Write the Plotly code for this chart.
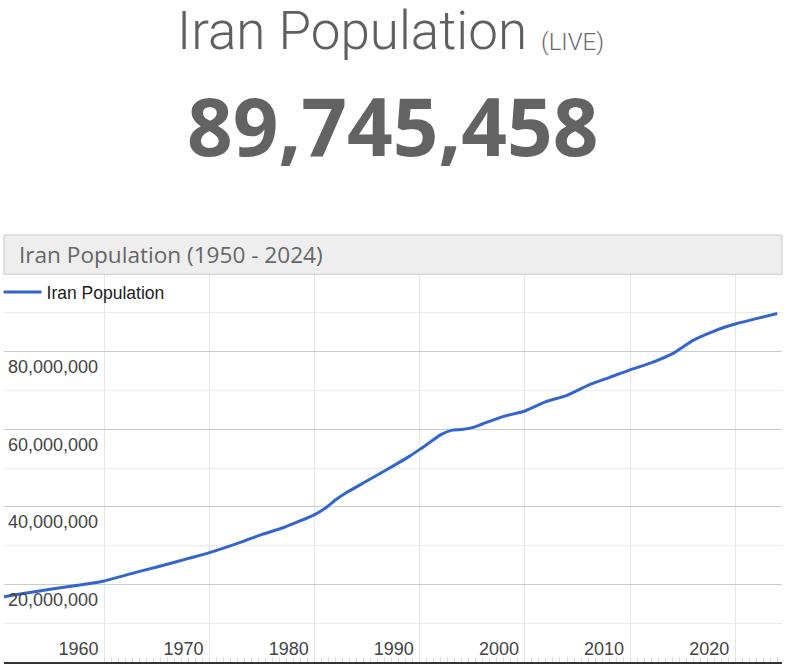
#!/usr/bin/env python3
"""Iran population (live counter + history line)."""

import plotly.graph_objects as go

# Values (millions of people)
years = [
    1950, 1952, 1955, 1958, 1960, 1963, 1965, 1968, 1970, 1973, 1975, 1977,
    1980, 1981, 1982, 1983, 1985, 1987, 1989, 1990, 1991, 1992, 1993, 1994,
    1995, 1996, 1998, 2000, 2002, 2003, 2004, 2006, 2008, 2010, 2012, 2014,
    2016, 2018, 2020, 2022, 2024,
]
population_m = [
    16.6, 17.5, 18.8, 20.0, 20.9, 23.1, 24.5, 26.7, 28.2, 30.9, 32.9, 34.6,
    38.0, 39.6, 41.8, 43.6, 46.7, 49.8, 53.0, 54.8, 56.7, 58.6, 59.7, 59.9,
    60.4, 61.4, 63.3, 64.7, 67.1, 67.9, 68.7, 71.3, 73.3, 75.3, 77.1, 79.4,
    82.9, 85.3, 87.1, 88.5, 89.8,
]
population = [round(v * 1_000_000) for v in population_m]

y_ticks = [20_000_000, 40_000_000, 60_000_000, 80_000_000]
y_minor = [10_000_000, 30_000_000, 50_000_000, 70_000_000, 90_000_000]
x_ticks = [1960, 1970, 1980, 1990, 2000, 2010, 2020]

live_count = "89,745,458"
chart_title = "Iran Population (1950 - 2024)"

W, H = 785, 671
L, R, T, B = 4, 3, 274, 9


def px_x(px):
    return (px - L) / (W - L - R)


def px_y(py):
    return (H - B - py) / (H - T - B)


fig = go.Figure()
fig.add_trace(
    go.Scatter(
        x=years,
        y=population,
        name="Iran Population",
        mode="lines",
        line=dict(color="#3366cc", width=3, shape="spline", smoothing=0.6),
    )
)

fig.update_layout(
    width=W,
    height=H,
    margin=dict(l=L, r=R, t=T, b=B, autoexpand=False),
    paper_bgcolor="white",
    plot_bgcolor="white",
    showlegend=True,
    legend=dict(
        x=-0.007,
        y=1,
        xanchor="left",
        yanchor="top",
        itemwidth=38,
        bgcolor="rgba(0,0,0,0)",
        font=dict(family="Liberation Sans, Arial", size=17.5, color="#222"),
    ),
    font=dict(family="Liberation Sans, Arial", color="#444"),
)

fig.update_xaxes(
    range=[1950.45, 2024.45],
    tickvals=x_ticks,
    showgrid=True,
    gridcolor="#e6e6e6",
    gridwidth=1,
    zeroline=False,
    showline=True,
    linecolor="#333",
    linewidth=2,
    ticks="",
    ticklabelposition="inside",
    ticklabelshift=-26,
    ticklabelstandoff=4,
    tickfont=dict(size=18, color="#444"),
    minor=dict(ticks="inside", dtick=2 / 3, tick0=1960, ticklen=5,
               tickcolor="#dddddd", showgrid=False),
    automargin=False,
    fixedrange=True,
)

fig.update_yaxes(
    range=[0, 100_000_000],
    tickvals=y_ticks,
    tickformat=",d",
    showgrid=True,
    gridcolor="#cccccc",
    gridwidth=1,
    zeroline=False,
    showline=False,
    ticks="",
    ticklabelposition="inside",
    ticklabelshift=15,
    ticklabelstandoff=1,
    tickfont=dict(size=18, color="#444"),
    minor=dict(tickvals=y_minor, showgrid=True, gridcolor="#ebebeb", gridwidth=1),
    automargin=False,
    fixedrange=True,
)

# grey header box of the chart
fig.add_shape(
    type="rect",
    xref="paper",
    yref="paper",
    x0=0,
    x1=1,
    y0=px_y(274.3),
    y1=px_y(235),
    fillcolor="#eeeeee",
    line=dict(color="#cccccc", width=1),
    layer="above",
)

fig.add_annotation(
    text=chart_title,
    xref="paper", yref="paper",
    x=px_x(17), y=px_y(255),
    xanchor="left", yanchor="middle",
    showarrow=False,
    font=dict(family="Open Sans", size=22.6, color="#666"),
)

fig.add_annotation(
    text="Iran Population",
    xref="paper", yref="paper",
    x=px_x(529), y=px_y(31),
    xanchor="right", yanchor="middle",
    showarrow=False,
    font=dict(family="Roboto", size=53, color="#5f5f5f", weight=300),
)
fig.add_annotation(
    text="(LIVE)",
    xref="paper", yref="paper",
    x=px_x(539), y=px_y(42),
    xanchor="left", yanchor="middle",
    showarrow=False,
    font=dict(family="Roboto", size=24, color="#6b6b6b", weight=300),
)
fig.add_annotation(
    text=f"<b>{live_count}</b>",
    xref="paper", yref="paper",
    x=px_x(392.5), y=px_y(124),
    xanchor="center", yanchor="middle",
    showarrow=False,
    font=dict(family="Open Sans", size=80, color="#636363"),
)

fig.write_html(
    "out.html",
    config={"displayModeBar": False},
    post_script="document.body.style.margin='0';",
)
